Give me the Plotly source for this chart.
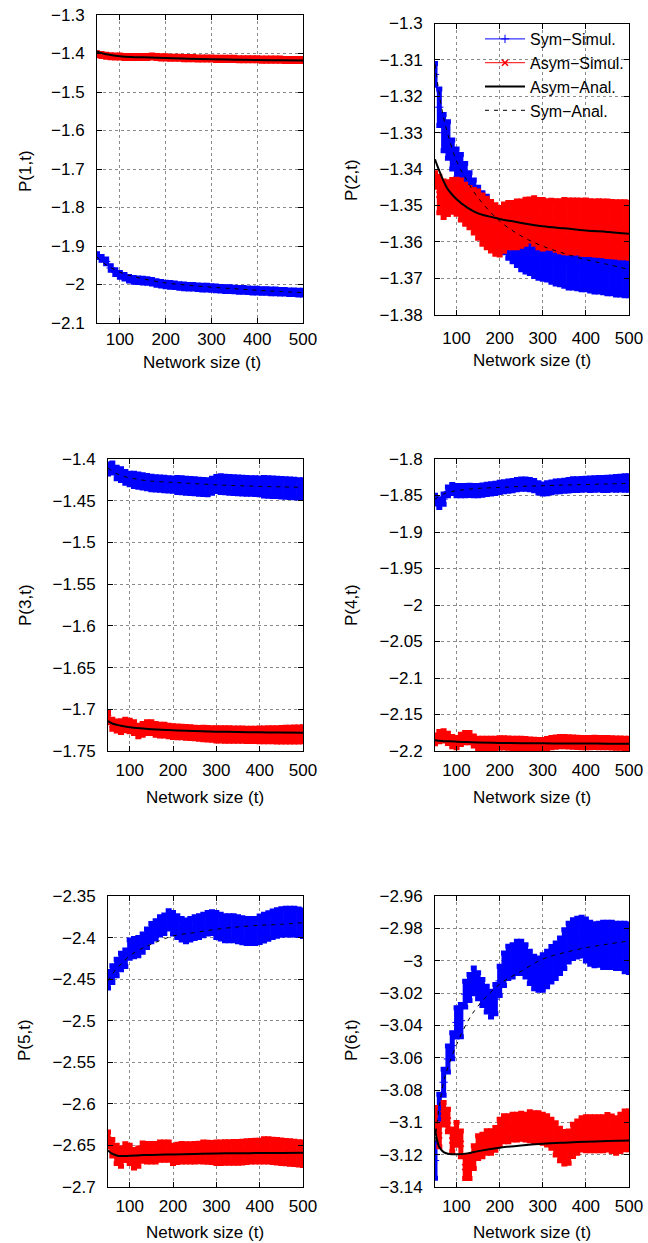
import plotly.graph_objects as go

# ---------------- data ----------------
T = list(range(50, 501, 10))
T_AN = [50, 55, 60, 70, 80, 100, 125, 150, 200, 250, 300, 350, 400, 450, 500]

# Panel 1  P(1,t)
p1_sym = [-1.925,-1.932,-1.940,-1.957,-1.968,-1.975,-1.980,-1.985,-1.988,-1.989,
          -1.990,-1.991,-1.993,-1.996,-1.998,-2.000,-2.001,-2.002,-2.004,-2.005,
          -2.006,-2.006,-2.007,-2.008,-2.008,-2.009,-2.010,-2.011,-2.012,-2.012,
          -2.013,-2.014,-2.014,-2.015,-2.016,-2.016,-2.017,-2.017,-2.018,-2.018,
          -2.019,-2.019,-2.020,-2.020,-2.021,-2.021]
p1_sym_err = [0.005,0.005,0.006,0.006,0.006,0.006,0.006,0.006,0.006,0.006,
              0.006,0.006,0.006,0.006,0.006,0.006,0.006,0.006,0.006,0.006,
              0.006,0.006,0.006,0.006,0.006,0.006,0.006,0.006,0.006,0.006,
              0.006,0.006,0.006,0.006,0.006,0.006,0.006,0.006,0.006,0.006,
              0.006,0.006,0.006,0.006,0.006,0.006]
p1_asym = [-1.402,-1.404,-1.406,-1.407,-1.408,-1.408,-1.409,-1.409,-1.409,-1.409,
           -1.409,-1.409,-1.408,-1.409,-1.410,-1.410,-1.411,-1.411,-1.411,-1.412,
           -1.412,-1.412,-1.413,-1.413,-1.413,-1.413,-1.414,-1.414,-1.414,-1.414,
           -1.414,-1.415,-1.415,-1.415,-1.415,-1.415,-1.416,-1.416,-1.416,-1.416,
           -1.416,-1.417,-1.417,-1.417,-1.417,-1.417]
p1_asym_err = [0.004,0.004,0.004,0.004,0.004,0.004,0.004,0.004,0.004,0.004,
               0.004,0.004,0.004,0.004,0.004,0.004,0.004,0.004,0.004,0.004,
               0.004,0.004,0.004,0.004,0.004,0.004,0.004,0.004,0.004,0.004,
               0.004,0.004,0.004,0.004,0.004,0.004,0.004,0.004,0.004,0.004,
               0.004,0.004,0.004,0.004,0.004,0.004]
p1_asym_an = [-1.395,-1.397,-1.399,-1.402,-1.404,-1.407,-1.409,-1.410,-1.412,-1.4135,-1.415,-1.416,-1.417,-1.4175,-1.418]
p1_sym_an = [-1.928,-1.934,-1.940,-1.949,-1.956,-1.968,-1.978,-1.985,-1.996,-2.002,-2.007,-2.011,-2.015,-2.018,-2.021]

# Panel 2  P(2,t)
p2_sym = [-1.3140,-1.3230,-1.3300,-1.3320,-1.3360,-1.3385,-1.3400,-1.3425,-1.3450,-1.3475,
          -1.3495,-1.3510,-1.3525,-1.3540,-1.3555,-1.3565,-1.3575,-1.3585,-1.3595,-1.3605,
          -1.3612,-1.3618,-1.3622,-1.3630,-1.3635,-1.3638,-1.3640,-1.3645,-1.3650,-1.3652,
          -1.3655,-1.3660,-1.3660,-1.3662,-1.3665,-1.3665,-1.3668,-1.3670,-1.3670,-1.3672,
          -1.3675,-1.3675,-1.3678,-1.3678,-1.3680,-1.3680]
p2_sym_err = [0.003,0.005,0.005,0.005,0.004,0.004,0.004,0.004,0.004,0.0045,
              0.0045,0.0045,0.005,0.005,0.005,0.0055,0.0055,0.006,0.006,0.006,
              0.0065,0.0065,0.0065,0.0065,0.0065,0.0065,0.0065,0.0066,0.0066,0.0066,
              0.0067,0.0067,0.0067,0.0067,0.0067,0.0067,0.0067,0.0068,0.0068,0.0068,
              0.0068,0.0068,0.0068,0.0068,0.0068,0.0068]
p2_asym = [-1.3430,-1.3470,-1.3483,-1.3480,-1.3474,-1.3476,-1.3485,-1.3497,-1.3506,-1.3516,
           -1.3525,-1.3539,-1.3548,-1.3557,-1.3566,-1.3571,-1.3561,-1.3554,-1.3554,-1.3552,
           -1.3550,-1.3545,-1.3540,-1.3543,-1.3550,-1.3552,-1.3552,-1.3552,-1.3555,-1.3557,
           -1.3557,-1.3558,-1.3558,-1.3558,-1.3560,-1.3560,-1.3561,-1.3562,-1.3562,-1.3563,
           -1.3564,-1.3565,-1.3566,-1.3567,-1.3567,-1.3568]
p2_asym_err = [0.002,0.005,0.005,0.0045,0.0045,0.0048,0.0055,0.0055,0.0055,0.006,
               0.0065,0.0068,0.0068,0.0068,0.0068,0.0065,0.0065,0.0062,0.0062,0.0064,
               0.0062,0.0062,0.0058,0.0064,0.0066,0.0068,0.0065,0.0066,0.0068,0.007,
               0.0073,0.0073,0.0073,0.0073,0.0074,0.0075,0.0074,0.0074,0.0075,0.0075,
               0.0076,0.0076,0.0076,0.0077,0.0077,0.0077]
p2_asym_an = [-1.3373,-1.3390,-1.3405,-1.3433,-1.3456,-1.3483,-1.3506,-1.3522,-1.3537,-1.3548,-1.3557,-1.3563,-1.3569,-1.3573,-1.3578]
p2_sym_an = [-1.3112,-1.3155,-1.3194,-1.3259,-1.3305,-1.3378,-1.3433,-1.3479,-1.3543,-1.3584,-1.3612,-1.3632,-1.3649,-1.3662,-1.3676]

# Panel 3  P(3,t)
p3_sym = [-1.4120,-1.4108,-1.4168,-1.4188,-1.4220,-1.4240,-1.4250,-1.4260,-1.4268,-1.4278,
          -1.4288,-1.4292,-1.4296,-1.4300,-1.4304,-1.4308,-1.4312,-1.4316,-1.4320,-1.4324,
          -1.4328,-1.4332,-1.4336,-1.4340,-1.4320,-1.4300,-1.4302,-1.4306,-1.4310,-1.4314,
          -1.4316,-1.4320,-1.4322,-1.4324,-1.4326,-1.4328,-1.4332,-1.4336,-1.4338,-1.4340,
          -1.4344,-1.4348,-1.4350,-1.4354,-1.4358,-1.4360]
p3_sym_err = [0.006,0.006,0.007,0.007,0.007,0.007,0.008,0.008,0.008,0.008,
              0.008,0.008,0.008,0.008,0.008,0.008,0.009,0.009,0.009,0.009,
              0.009,0.009,0.009,0.009,0.009,0.009,0.010,0.010,0.010,0.010,
              0.010,0.010,0.010,0.010,0.010,0.010,0.011,0.011,0.011,0.011,
              0.011,0.011,0.011,0.011,0.011,0.011]
p3_asym = [-1.7100,-1.7180,-1.7200,-1.7208,-1.7188,-1.7200,-1.7220,-1.7260,-1.7240,-1.7220,
           -1.7220,-1.7240,-1.7250,-1.7250,-1.7260,-1.7268,-1.7270,-1.7272,-1.7276,-1.7280,
           -1.7284,-1.7288,-1.7290,-1.7294,-1.7296,-1.7300,-1.7300,-1.7302,-1.7302,-1.7304,
           -1.7304,-1.7304,-1.7306,-1.7306,-1.7306,-1.7306,-1.7306,-1.7306,-1.7306,-1.7306,
           -1.7305,-1.7304,-1.7303,-1.7302,-1.7301,-1.7300]
p3_asym_err = [0.006,0.006,0.006,0.007,0.007,0.007,0.007,0.007,0.007,0.007,
               0.007,0.007,0.007,0.007,0.007,0.007,0.007,0.007,0.007,0.007,
               0.007,0.007,0.0075,0.0075,0.0075,0.008,0.008,0.008,0.008,0.008,
               0.008,0.008,0.008,0.008,0.008,0.0082,0.0082,0.0084,0.0084,0.0086,
               0.0086,0.0088,0.0088,0.009,0.009,0.009]
p3_asym_an = [-1.7140,-1.7157,-1.7170,-1.7185,-1.7198,-1.7215,-1.7228,-1.7238,-1.7252,-1.7261,-1.7268,-1.7273,-1.7276,-1.7279,-1.7280]
p3_sym_an = [-1.4110,-1.4128,-1.4145,-1.4175,-1.4200,-1.4225,-1.4250,-1.4265,-1.4280,-1.4295,-1.4310,-1.4320,-1.4328,-1.4334,-1.4340]

# Panel 4  P(4,t)
p4_sym = [-1.8558,-1.8603,-1.8549,-1.8443,-1.8411,-1.8434,-1.8434,-1.8434,-1.8430,-1.8434,
          -1.8434,-1.8425,-1.8415,-1.8410,-1.8402,-1.8389,-1.8380,-1.8372,-1.8366,-1.8352,
          -1.8343,-1.8345,-1.8350,-1.8366,-1.8395,-1.8411,-1.8400,-1.8389,-1.8377,-1.8372,
          -1.8366,-1.8360,-1.8352,-1.8352,-1.8348,-1.8343,-1.8345,-1.8343,-1.8340,-1.8343,
          -1.8340,-1.8336,-1.8334,-1.8330,-1.8329,-1.8329]
p4_sym_err = [0.006,0.006,0.007,0.006,0.006,0.007,0.007,0.007,0.007,0.007,
              0.007,0.007,0.007,0.007,0.007,0.007,0.007,0.007,0.007,0.007,
              0.007,0.007,0.007,0.007,0.007,0.007,0.0075,0.0075,0.0075,0.0075,
              0.0075,0.008,0.008,0.008,0.008,0.008,0.0085,0.0085,0.0085,0.009,
              0.009,0.009,0.0095,0.0095,0.010,0.010]
p4_asym = [-2.1840,-2.1803,-2.1794,-2.1826,-2.1872,-2.1886,-2.1840,-2.1817,-2.1817,-2.1863,
           -2.1895,-2.1895,-2.1897,-2.1897,-2.1895,-2.1890,-2.1890,-2.1893,-2.1895,-2.1897,
           -2.1897,-2.1900,-2.1905,-2.1910,-2.1913,-2.1913,-2.1900,-2.1885,-2.1877,-2.1872,
           -2.1872,-2.1875,-2.1877,-2.1883,-2.1886,-2.1886,-2.1884,-2.1882,-2.1884,-2.1886,
           -2.1886,-2.1890,-2.1893,-2.1893,-2.1895,-2.1895]
p4_asym_err = [0.006,0.007,0.007,0.007,0.007,0.007,0.007,0.007,0.007,0.007,
               0.007,0.007,0.007,0.007,0.007,0.007,0.007,0.007,0.007,0.007,
               0.007,0.007,0.007,0.007,0.007,0.007,0.007,0.007,0.007,0.007,
               0.007,0.007,0.007,0.007,0.007,0.007,0.007,0.007,0.007,0.007,
               0.007,0.007,0.007,0.007,0.007,0.007]
p4_asym_an = [-2.1854,-2.1857,-2.1860,-2.1865,-2.1868,-2.1872,-2.1878,-2.1883,-2.1890,-2.1893,-2.1895,-2.1897,-2.1898,-2.1899,-2.1900]
p4_sym_an = [-1.8550,-1.8530,-1.8510,-1.8480,-1.8457,-1.8434,-1.8415,-1.8402,-1.8390,-1.8375,-1.8366,-1.8357,-1.8350,-1.8342,-1.8334]

# Panel 5  P(5,t)
p5_sym = [-2.4508,-2.4440,-2.4360,-2.4288,-2.4248,-2.4140,-2.4120,-2.4108,-2.4068,-2.4008,
          -2.3940,-2.3908,-2.3860,-2.3840,-2.3788,-2.3828,-2.3868,-2.3900,-2.3920,-2.3900,
          -2.3880,-2.3868,-2.3848,-2.3828,-2.3820,-2.3848,-2.3868,-2.3888,-2.3888,-2.3888,
          -2.3900,-2.3912,-2.3920,-2.3920,-2.3920,-2.3900,-2.3880,-2.3860,-2.3840,-2.3824,
          -2.3812,-2.3808,-2.3808,-2.3808,-2.3816,-2.3828]
p5_sym_err = [0.010,0.010,0.010,0.010,0.010,0.011,0.011,0.011,0.011,0.011,
              0.011,0.011,0.011,0.011,0.011,0.013,0.013,0.013,0.013,0.013,
              0.013,0.013,0.013,0.013,0.013,0.015,0.015,0.015,0.015,0.015,
              0.015,0.015,0.015,0.015,0.015,0.016,0.016,0.016,0.016,0.016,
              0.016,0.016,0.016,0.016,0.016,0.016]
p5_asym = [-2.6428,-2.6528,-2.6608,-2.6640,-2.6580,-2.6608,-2.6660,-2.6640,-2.6580,-2.6588,
           -2.6588,-2.6588,-2.6568,-2.6568,-2.6568,-2.6608,-2.6595,-2.6588,-2.6590,-2.6590,
           -2.6588,-2.6585,-2.6580,-2.6582,-2.6585,-2.6588,-2.6588,-2.6585,-2.6585,-2.6584,
           -2.6584,-2.6580,-2.6575,-2.6570,-2.6568,-2.6568,-2.6560,-2.6560,-2.6565,-2.6570,
           -2.6576,-2.6580,-2.6585,-2.6590,-2.6595,-2.6600]
p5_asym_err = [0.009,0.010,0.011,0.011,0.010,0.011,0.011,0.011,0.011,0.011,
               0.011,0.011,0.011,0.011,0.011,0.011,0.011,0.011,0.011,0.011,
               0.011,0.011,0.012,0.012,0.012,0.013,0.013,0.013,0.013,0.013,
               0.013,0.013,0.013,0.013,0.013,0.013,0.014,0.014,0.014,0.014,
               0.014,0.014,0.014,0.014,0.014,0.014]
p5_asym_an = [-2.6560,-2.6585,-2.6600,-2.6620,-2.6628,-2.6624,-2.6618,-2.6614,-2.6608,-2.6602,-2.6596,-2.6594,-2.6592,-2.6590,-2.6588]
p5_sym_an = [-2.4520,-2.4480,-2.4440,-2.4370,-2.4320,-2.4220,-2.4140,-2.4080,-2.3980,-2.3940,-2.3900,-2.3872,-2.3852,-2.3840,-2.3820]

# Panel 6  P(6,t)
p6_sym = [-3.1236,-3.0906,-3.0752,-3.0608,-3.0526,-3.0382,-3.0371,-3.0207,-3.0166,-3.0125,
          -3.0155,-3.0197,-3.0238,-3.0269,-3.0238,-3.0125,-3.0053,-3.0011,-3.0001,-2.9980,
          -2.9980,-3.0001,-3.0042,-3.0073,-3.0083,-3.0073,-3.0052,-3.0022,-3.0001,-2.9970,
          -2.9929,-2.9888,-2.9867,-2.9857,-2.9851,-2.9872,-2.9892,-2.9902,-2.9898,-2.9902,
          -2.9902,-2.9902,-2.9909,-2.9909,-2.9919,-2.9923]
p6_sym_err = [0.011,0.008,0.008,0.008,0.008,0.009,0.010,0.008,0.008,0.008,
              0.008,0.008,0.008,0.008,0.009,0.009,0.010,0.010,0.010,0.010,
              0.010,0.010,0.010,0.010,0.010,0.011,0.011,0.011,0.011,0.011,
              0.012,0.012,0.012,0.012,0.012,0.013,0.013,0.013,0.013,0.014,
              0.014,0.014,0.014,0.014,0.015,0.015]
p6_asym = [-3.0978,-3.1081,-3.0947,-3.0989,-3.1112,-3.1071,-3.1133,-3.1277,-3.1277,-3.1215,
           -3.1153,-3.1143,-3.1122,-3.1122,-3.1102,-3.1061,-3.1040,-3.1040,-3.1030,-3.1030,
           -3.1024,-3.1030,-3.1024,-3.1030,-3.1030,-3.1040,-3.1050,-3.1071,-3.1102,-3.1137,
           -3.1157,-3.1153,-3.1112,-3.1092,-3.1071,-3.1071,-3.1071,-3.1071,-3.1071,-3.1071,
           -3.1061,-3.1071,-3.1081,-3.1065,-3.1050,-3.1050]
p6_asym_err = [0.007,0.007,0.007,0.007,0.007,0.007,0.008,0.007,0.007,0.007,
               0.007,0.007,0.007,0.007,0.007,0.008,0.008,0.008,0.008,0.008,
               0.008,0.008,0.009,0.009,0.009,0.009,0.009,0.009,0.010,0.010,
               0.010,0.010,0.010,0.010,0.010,0.0105,0.0105,0.0105,0.0105,0.0105,
               0.011,0.011,0.011,0.0115,0.012,0.012]
p6_asym_an = [-3.1040,-3.1112,-3.1153,-3.1184,-3.1194,-3.1198,-3.1192,-3.1178,-3.1157,-3.1143,-3.1133,-3.1126,-3.1120,-3.1116,-3.1112]
p6_sym_an = [-3.1120,-3.1000,-3.0900,-3.0750,-3.0660,-3.0520,-3.0380,-3.0280,-3.0145,-3.0065,-2.9990,-2.9950,-2.9920,-2.9898,-2.9878]

Y_TITLES = ["P(1,t)", "P(2,t)", "P(3,t)", "P(4,t)", "P(5,t)", "P(6,t)"]
X_TITLE = "Network size (t)"
Y_RANGES = [(-2.1, -1.3), (-1.38, -1.30), (-1.75, -1.40), (-2.2, -1.8), (-2.7, -2.35), (-3.14, -2.96)]
Y_DTICK = [0.1, 0.01, 0.05, 0.05, 0.05, 0.02]
X_TICKS = [100, 200, 300, 400, 500]
NAMES = ["Sym\u2212Simul.", "Asym\u2212Simul.", "Asym\u2212Anal.", "Sym\u2212Anal."]

panels = [
    (p1_sym, p1_sym_err, p1_asym, p1_asym_err, p1_asym_an, p1_sym_an),
    (p2_sym, p2_sym_err, p2_asym, p2_asym_err, p2_asym_an, p2_sym_an),
    (p3_sym, p3_sym_err, p3_asym, p3_asym_err, p3_asym_an, p3_sym_an),
    (p4_sym, p4_sym_err, p4_asym, p4_asym_err, p4_asym_an, p4_sym_an),
    (p5_sym, p5_sym_err, p5_asym, p5_asym_err, p5_asym_an, p5_sym_an),
    (p6_sym, p6_sym_err, p6_asym, p6_asym_err, p6_asym_an, p6_sym_an),
]

# ---------------- layout (pixel boxes of plot areas) ----------------
W, H = 648, 1243
BOXES = [  # left, right, top, bottom in px
    (97, 303, 15, 323),
    (435, 629, 23.5, 314.6),
    (108, 303, 459, 751),
    (435, 629, 459, 751),
    (108, 303, 896, 1187),
    (435, 629, 896, 1187),
]
XLABEL_STANDOFF = [1, 8, 4, 4, 4, 4]
XTITLE_POS = [(202, 362), (532, 360), (205, 797), (532, 797), (205, 1232), (532, 1232)]
YTITLE_POS = [(25, 171), (351, 180), (25, 605), (351, 605), (24, 1040), (351, 1040)]

BLUE = "#0000ff"
RED = "#ff0000"
FONT = "Liberation Sans, Arial, Helvetica, sans-serif"

fig = go.Figure()
layout = dict(
    template="none",
    width=W, height=H, autosize=False,
    margin=dict(l=0, r=0, t=0, b=0, pad=0, autoexpand=False),
    paper_bgcolor="white", plot_bgcolor="white",
    font=dict(family=FONT, size=17, color="black"),
    showlegend=True,
    hovermode=False,
    annotations=[],
)

for i, (sym, sym_err, asym, asym_err, asym_an, sym_an) in enumerate(panels):
    k = "" if i == 0 else str(i + 1)
    xa, ya = "x" + k, "y" + k
    show = (i == 1)
    fig.add_trace(go.Scatter(
        x=T, y=sym, xaxis=xa, yaxis=ya, name=NAMES[0], showlegend=show,
        mode="lines+markers", line=dict(color=BLUE, width=1),
        marker=dict(symbol="cross-thin", size=6, line=dict(color=BLUE, width=1)),
        error_y=dict(type="data", array=sym_err, color=BLUE, thickness=5, width=3),
    ))
    fig.add_trace(go.Scatter(
        x=T, y=asym, xaxis=xa, yaxis=ya, name=NAMES[1], showlegend=show,
        mode="lines+markers", line=dict(color=RED, width=1),
        marker=dict(symbol="x-thin", size=6, line=dict(color=RED, width=1.5)),
        error_y=dict(type="data", array=asym_err, color=RED, thickness=5, width=3),
    ))
    fig.add_trace(go.Scatter(
        x=T_AN, y=asym_an, xaxis=xa, yaxis=ya, name=NAMES[2], showlegend=show,
        mode="lines", line=dict(color="black", width=2, shape="spline"),
    ))
    fig.add_trace(go.Scatter(
        x=T_AN, y=sym_an, xaxis=xa, yaxis=ya, name=NAMES[3], showlegend=show,
        mode="lines", line=dict(color="black", width=1, dash="4px,5px", shape="spline"),
    ))

    l, r, t, b = BOXES[i]
    common = dict(
        automargin=False,
        showline=True, linecolor="black", linewidth=1, mirror="ticks",
        ticks="inside", ticklen=5, tickcolor="black", tickwidth=1,
        showgrid=True, gridcolor="#8a8a8a", griddash="dot", gridwidth=1,
        zeroline=False, tickfont=dict(family=FONT, size=17, color="black"),
    )
    layout["xaxis" + k] = dict(
        common, domain=[l / W, r / W], range=[50, 500], tickvals=X_TICKS,
        anchor=ya, ticklabelstandoff=XLABEL_STANDOFF[i],
    )
    lo, hi = Y_RANGES[i]
    layout["yaxis" + k] = dict(
        common, domain=[1 - b / H, 1 - t / H], range=[lo, hi], dtick=Y_DTICK[i],
        tick0=hi, anchor=xa, ticklabelstandoff=8,
    )
    xt = XTITLE_POS[i]
    layout["annotations"].append(dict(
        text=X_TITLE, x=xt[0] / W, y=1 - xt[1] / H, xref="paper", yref="paper",
        showarrow=False, xanchor="center", yanchor="middle", font=dict(size=17)))
    yt = YTITLE_POS[i]
    layout["annotations"].append(dict(
        text=Y_TITLES[i], x=yt[0] / W, y=1 - yt[1] / H, xref="paper", yref="paper",
        showarrow=False, xanchor="center", yanchor="middle", textangle=-90, font=dict(size=17)))

layout["legend"] = dict(
    x=629 / W, y=1 - 22 / H, xanchor="right", yanchor="top",
    bgcolor="rgba(255,255,255,0)", borderwidth=0,
    font=dict(family=FONT, size=16, color="black"), tracegroupgap=0, itemwidth=40,
)

fig.update_layout(**layout)
fig.write_html(
    "out.html",
    config={"displayModeBar": False, "staticPlot": True},
    post_script=(
        "document.body.style.margin='0';"
        "document.body.style.padding='0';"
        "document.documentElement.style.overflow='hidden';"
    ),
)
